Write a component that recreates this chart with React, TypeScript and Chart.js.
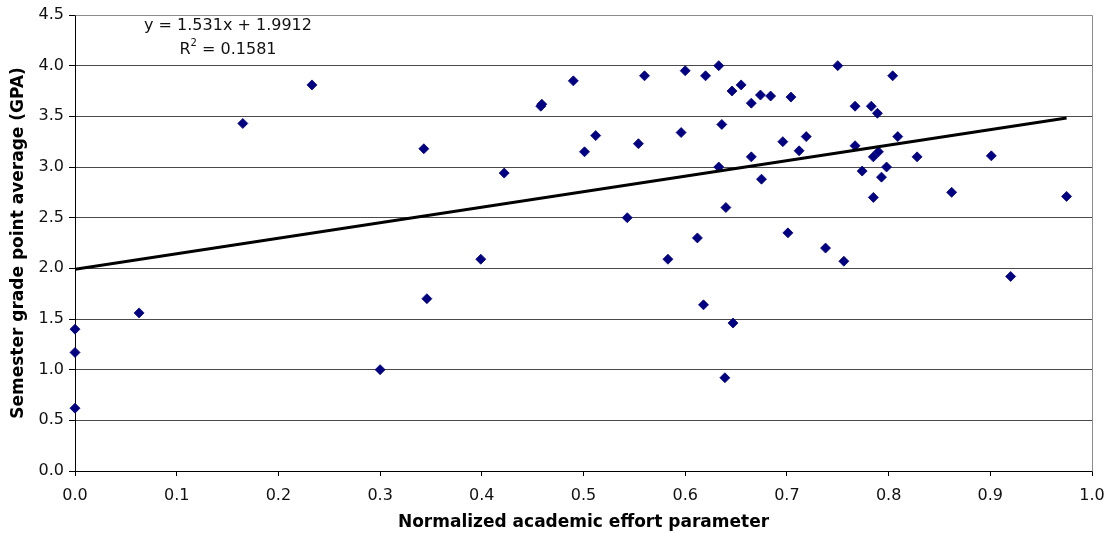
import React, { useEffect, useRef } from "react";
import { Chart, registerables } from "chart.js";

Chart.register(...registerables);

// Normalized academic effort parameter (x)
const effort: number[] = [
  0, 0, 0, 0.063, 0.165, 0.233, 0.3, 0.343, 0.346, 0.399,
  0.422, 0.458, 0.459, 0.49, 0.501, 0.512, 0.543, 0.554, 0.56, 0.583,
  0.596, 0.6, 0.612, 0.618, 0.62, 0.633, 0.633, 0.636, 0.639, 0.64,
  0.646, 0.647, 0.655, 0.665, 0.665, 0.674, 0.675, 0.684, 0.696, 0.701,
  0.704, 0.712, 0.719, 0.738, 0.75, 0.756, 0.767, 0.767, 0.774, 0.783,
  0.785, 0.785, 0.789, 0.79, 0.793, 0.798, 0.804, 0.809, 0.828, 0.862,
  0.901, 0.92, 0.975,
];

// Semester grade point average (y)
const gpa: number[] = [
  1.4, 1.17, 0.62, 1.56, 3.43, 3.81, 1.0, 3.18, 1.7, 2.09,
  2.94, 3.6, 3.62, 3.85, 3.15, 3.31, 2.5, 3.23, 3.9, 2.09,
  3.34, 3.95, 2.3, 1.64, 3.9, 4.0, 3.0, 3.42, 0.92, 2.6,
  3.75, 1.46, 3.81, 3.63, 3.1, 3.71, 2.88, 3.7, 3.25, 2.35,
  3.69, 3.16, 3.3, 2.2, 4.0, 2.07, 3.6, 3.21, 2.96, 3.6,
  3.1, 2.7, 3.53, 3.15, 2.9, 3.0, 3.9, 3.3, 3.1, 2.75,
  3.11, 1.92, 2.71,
];

// Linear trend line parameters
const slope = 1.531;
const intercept = 1.9912;
const rSquared = 0.1581;

const equationText = "y = 1.531x + 1.9912";
const rSquaredValueText = " = " + rSquared.toFixed(4);

const xTitle = "Normalized academic effort parameter";
const yTitle = "Semester grade point average (GPA)";

const FONT = "'DejaVu Sans', Verdana, sans-serif";

export default function App() {
  const canvasRef = useRef<HTMLCanvasElement | null>(null);

  useEffect(() => {
    document.body.style.margin = "0";
    document.body.style.overflow = "hidden";
    const canvas = canvasRef.current;
    if (!canvas) return;

    const points = effort.map((x, i) => ({ x, y: gpa[i] }));
    const xMin = Math.min(...effort);
    const xMax = Math.max(...effort);
    const trend = [
      { x: xMin, y: slope * xMin + intercept },
      { x: xMax, y: slope * xMax + intercept },
    ];

    const framePlugin = {
      id: "frameAndLabel",
      afterDraw(chart: any) {
        const { ctx, chartArea } = chart;
        ctx.save();
        ctx.strokeStyle = "#8c8c8c";
        ctx.lineWidth = 1;
        ctx.beginPath();
        ctx.moveTo(Math.round(chartArea.left) + 0.5, Math.round(chartArea.top) + 0.5);
        ctx.lineTo(Math.round(chartArea.right) + 0.5, Math.round(chartArea.top) + 0.5);
        ctx.lineTo(Math.round(chartArea.right) + 0.5, Math.round(chartArea.bottom) + 0.5);
        ctx.stroke();

        const cx = 228;
        ctx.fillStyle = "#111";
        ctx.textBaseline = "middle";
        ctx.font = `16px ${FONT}`;
        ctx.textAlign = "center";
        ctx.fillText(equationText, cx, 26);

        ctx.textAlign = "left";
        ctx.font = `16px ${FONT}`;
        const wR = ctx.measureText("R").width;
        const wRest = ctx.measureText(rSquaredValueText).width;
        ctx.font = `10px ${FONT}`;
        const w2 = ctx.measureText("2").width;
        const total = wR + w2 + wRest;
        const x0 = cx - total / 2;
        ctx.font = `16px ${FONT}`;
        ctx.fillText("R", x0, 50);
        ctx.font = `10px ${FONT}`;
        ctx.fillText("2", x0 + wR, 43);
        ctx.font = `16px ${FONT}`;
        ctx.fillText(rSquaredValueText, x0 + wR + w2, 50);
        ctx.restore();
      },
    };

    const chart = new Chart(canvas, {
      type: "scatter",
      data: {
        datasets: [
          {
            label: "GPA",
            data: points,
            pointStyle: "rectRot",
            pointRadius: 5,
            pointBackgroundColor: "#000080",
            pointBorderColor: "#000080",
            pointBorderWidth: 0.8,
            showLine: false,
            clip: false,
            order: 2,
          } as any,
          {
            label: "Linear trend",
            data: trend,
            type: "line",
            borderColor: "#000",
            borderWidth: 3,
            pointRadius: 0,
            showLine: true,
            fill: false,
            order: 1,
          } as any,
        ],
      },
      options: {
        animation: false,
        responsive: false,
        devicePixelRatio: 1,
        layout: { padding: { left: 0, right: 17, top: 15, bottom: 0 } },
        plugins: {
          legend: { display: false },
          tooltip: { enabled: false },
        },
        scales: {
          x: {
            type: "linear",
            min: 0,
            max: 1,
            afterFit: (s: any) => {
              s.height = 62;
              s.paddingLeft = 0;
              s.paddingRight = 0;
            },
            ticks: {
              stepSize: 0.1,
              color: "#111",
              padding: 10,
              font: { family: FONT, size: 16 },
              callback: (v: any) => Number(v).toFixed(1),
            },
            grid: {
              drawOnChartArea: false,
              drawTicks: true,
              tickLength: 5,
              tickColor: "#000",
            },
            border: { color: "#000", width: 1 },
            title: {
              display: true,
              text: xTitle,
              color: "#000",
              font: { family: FONT, size: 17, weight: "bold" },
              padding: { top: 0, bottom: 0 },
            },
          },
          y: {
            type: "linear",
            min: 0,
            max: 4.5,
            afterFit: (s: any) => {
              s.width = 75;
              s.paddingTop = 0;
              s.paddingBottom = 0;
            },
            ticks: {
              stepSize: 0.5,
              color: "#111",
              padding: 5,
              font: { family: FONT, size: 16 },
              callback: (v: any) => Number(v).toFixed(1),
            },
            grid: {
              color: "#4a4a4a",
              drawTicks: true,
              tickLength: 6,
              tickColor: "#000",
            },
            border: { color: "#000", width: 1 },
            title: {
              display: true,
              text: yTitle,
              color: "#000",
              font: { family: FONT, size: 17, weight: "bold" },
              padding: { top: 8, bottom: 0 },
            },
          },
        },
      },
      plugins: [framePlugin],
    });

    return () => {
      chart.destroy();
    };
  }, []);

  return (
    <div style={{ width: 1109, height: 533 }}>
      <canvas ref={canvasRef} width={1109} height={533} style={{ display: "block" }} />
    </div>
  );
}
